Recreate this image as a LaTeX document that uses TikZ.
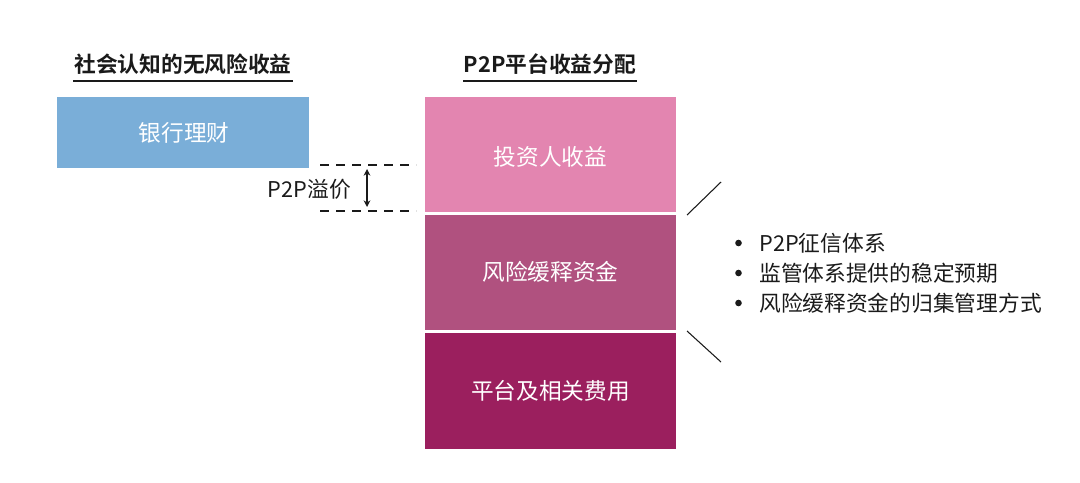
\documentclass[tikz,border=0pt]{standalone}
\usepackage{fontspec}
\setmainfont{Noto Sans CJK SC}
\newfontfamily\cjkb{Noto Sans CJK SC Bold}
\usetikzlibrary{arrows.meta}
\definecolor{bankblue}{HTML}{7AAED8}
\definecolor{pinkA}{HTML}{E385B0}
\definecolor{pinkB}{HTML}{B0517F}
\definecolor{pinkC}{HTML}{9B1F5E}
\definecolor{txt}{HTML}{1A1A1A}
\tikzset{
  blockbox/.style={draw=none, inner sep=0pt, text=white, font=\fontsize{17}{20}\selectfont},
  titletext/.style={text=txt, inner sep=0pt, font=\cjkb\fontsize{16.3}{19}\selectfont},
  bullettext/.style={text=txt, inner sep=0pt, anchor=west, font=\fontsize{16.3}{19}\selectfont},
  guide/.style={draw=txt, line width=0.8pt},
  dashguide/.style={draw=txt, line width=0.8pt, dash pattern=on 7pt off 5pt}
}
\begin{document}
\begin{tikzpicture}[x=0.75pt,y=-0.75pt]
\useasboundingbox (0,0) rectangle (1080,482);
% titles
\node[titletext] (t1) at (183,64) {社会认知的无风险收益};
\node[titletext] (t2) at (550,64) {P2P平台收益分配};
\draw[line width=1.6pt, txt] (73,81) -- (293,81);
\draw[line width=1.6pt, txt] (463,81) -- (637,81);
% blue box
\fill[bankblue] (57,97) rectangle (309,168);
\node[blockbox] (bank) at (184,133) {银行理财};
% pink boxes
\fill[pinkA] (425,97) rectangle (676,212);
\fill[pinkB] (425,215) rectangle (676,330);
\fill[pinkC] (425,333) rectangle (676,449);
\node[blockbox] (inv) at (550.5,157) {投资人收益};
\node[blockbox] (risk) at (550.5,272) {风险缓释资金};
\node[blockbox] (fee) at (550.5,391) {平台及相关费用};
% dashed lines and arrow
\coordinate (d1a) at (320,165); \coordinate (d1b) at (416,165);
\coordinate (d2a) at (320,211); \coordinate (d2b) at (416,211);
\draw[dashguide] (d1a) -- (d1b);
\draw[dashguide] (d2a) -- (d2b);
\coordinate (ar1) at (367,169); \coordinate (ar2) at (367,207);
\draw[guide, line width=0.9pt, {Stealth[length=5pt,width=5pt]}-{Stealth[length=5pt,width=5pt]}] (ar1) -- (ar2);
\node[text=txt, inner sep=0pt, anchor=east, font=\fontsize{16.3}{19}\selectfont] (prem) at (351,189) {P2P溢价};
% slashes
\coordinate (s1a) at (687,215); \coordinate (s1b) at (721,182);
\coordinate (s2a) at (687,331); \coordinate (s2b) at (721,362);
\draw[guide] (s1a) -- (s1b);
\draw[guide] (s2a) -- (s2b);
% bullets
\foreach \y/\t/\n in {243/P2P征信体系/b1, 273/监管体系提供的稳定预期/b2, 303/风险缓释资金的归集管理方式/b3}{
  \fill[txt] (738.5,\y) circle (3.3);
  \node[bullettext] (\n) at (759,\y) {\t};
}
\end{tikzpicture}
\end{document}
